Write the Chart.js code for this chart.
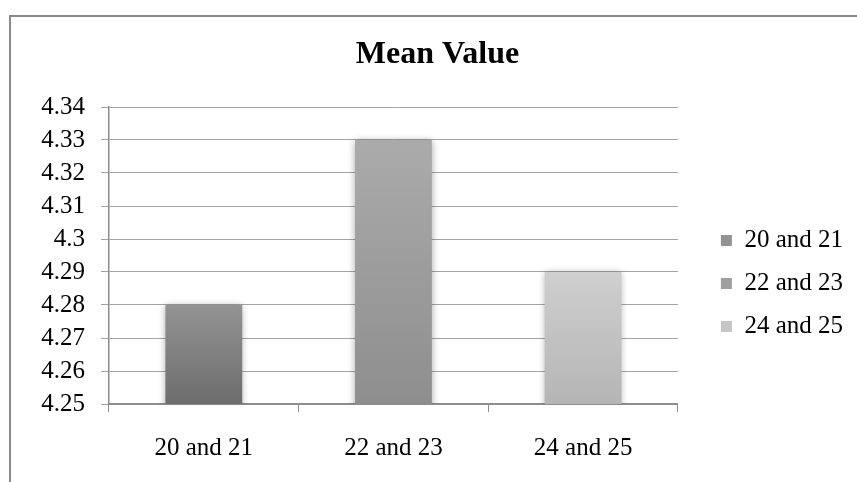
<!DOCTYPE html>
<html>
<head>
<meta charset="utf-8">
<title>Mean Value</title>
<script src="https://cdn.jsdelivr.net/npm/chart.js@4/dist/chart.umd.min.js"></script>
<style>
  html, body { margin: 0; padding: 0; background: #ffffff; }
  canvas { display: block; }
</style>
</head>
<body>
<canvas id="chart" width="857" height="482"></canvas>
<script>
// Age groups on the x axis, one series per group
const categories = ['20 and 21', '22 and 23', '24 and 25'];
const seriesNames = ['20 and 21', '22 and 23', '24 and 25'];
const meanValues = [4.28, 4.33, 4.29];

// Value axis range and step
const yMin = 4.25;
const yMax = 4.34;
const yStep = 0.01;

// Fill shades per series: [top of bar, bottom of bar, legend swatch]
const shades = [
  ['#939393', '#6d6d6d', '#818181'],
  ['#ababab', '#8e8e8e', '#9f9f9f'],
  ['#cfcfcf', '#b5b5b5', '#c6c6c6']
];

const serif = '"Liberation Serif", "Times New Roman", serif';

function barFill(top, bottom, solid) {
  return (ctx) => {
    const chart = ctx.chart;
    if (ctx.type !== 'data' || !chart.chartArea || !chart.scales.y) return solid;
    const y = chart.scales.y;
    const y0 = y.getPixelForValue(ctx.raw);
    const y1 = y.getPixelForValue(y.min);
    if (!isFinite(y0) || !isFinite(y1) || y0 === y1) return solid;
    const g = chart.ctx.createLinearGradient(0, y0, 0, y1);
    g.addColorStop(0, top);
    g.addColorStop(1, bottom);
    return g;
  };
}

// One dataset per series, each holding its value only in its own category
const datasets = seriesNames.map((name, i) => ({
  label: name,
  data: categories.map((c, j) => (j === i ? meanValues[i] : null)),
  backgroundColor: barFill(shades[i][0], shades[i][1], shades[i][2]),
  borderWidth: 0,
  skipNull: true,
  barPercentage: 0.405,
  categoryPercentage: 1
}));

// Outer chart frame (top and left edges)
const framePlugin = {
  id: 'frame',
  beforeDraw(chart) {
    const c = chart.ctx;
    c.save();
    c.fillStyle = '#ffffff';
    c.fillRect(0, 0, chart.width, chart.height);
    c.strokeStyle = '#8a8a8a';
    c.lineWidth = 2;
    c.beginPath();
    c.moveTo(10, chart.height);
    c.lineTo(10, 16);
    c.lineTo(chart.width, 16);
    c.stroke();
    c.restore();
  }
};

// Soft shadow around the bars
const barShadow = {
  id: 'barShadow',
  beforeDatasetsDraw(chart) {
    const c = chart.ctx;
    c.save();
    c.shadowColor = 'rgba(0, 0, 0, 0.35)';
    c.shadowBlur = 7;
    c.shadowOffsetX = 0;
    c.shadowOffsetY = 1;
  },
  afterDatasetsDraw(chart) {
    chart.ctx.restore();
  }
};

new Chart(document.getElementById('chart'), {
  type: 'bar',
  data: { labels: categories, datasets },
  plugins: [framePlugin, barShadow],
  options: {
    responsive: false,
    animation: false,
    devicePixelRatio: 1,
    layout: { padding: { top: 0, left: 22, right: 4, bottom: -2 } },
    plugins: {
      title: {
        display: true,
        text: 'Mean Value',
        color: '#000000',
        font: { family: serif, size: 32, weight: 'bold' },
        padding: { top: 36, bottom: 32.6 }
      },
      legend: {
        position: 'right',
        maxWidth: 300,
        title: {
          display: true,
          text: '',
          font: { family: serif, size: 10, lineHeight: 1 },
          padding: { top: 0, bottom: 73 }
        },
        labels: {
          color: '#000000',
          font: { family: serif, size: 25 },
          boxWidth: 11,
          boxHeight: 11,
          padding: 18
        }
      },
      tooltip: { enabled: false }
    },
    scales: {
      x: {
        grid: {
          offset: true,
          drawOnChartArea: false,
          color: '#8c8c8c',
          tickLength: 8
        },
        border: { color: '#8c8c8c', width: 2 },
        ticks: {
          color: '#000000',
          font: { family: serif, size: 25 },
          padding: 21,
          maxRotation: 0
        }
      },
      y: {
        min: yMin,
        max: yMax,
        afterFit(scale) { scale.width = 87; },
        grid: { color: '#a3a3a3', lineWidth: 1, tickLength: 8 },
        border: { color: '#8c8c8c', width: 1.5 },
        ticks: {
          stepSize: yStep,
          autoSkip: false,
          color: '#000000',
          font: { family: serif, size: 25 },
          padding: 16,
          callback: (v) => String(Number(Number(v).toFixed(2)))
        }
      },
      gap: {
        type: 'linear',
        position: 'right',
        display: true,
        afterFit(scale) { scale.width = 25; },
        grid: { display: false },
        border: { display: false },
        ticks: { display: false }
      }
    }
  }
});
</script>
</body>
</html>
